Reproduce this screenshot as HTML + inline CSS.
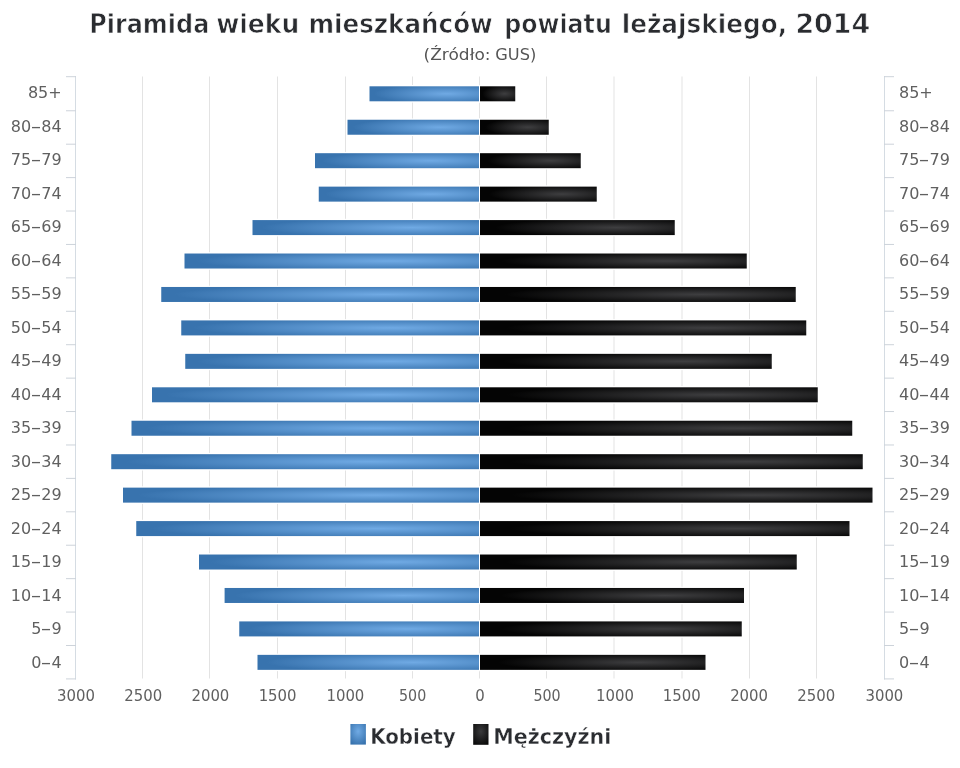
<!DOCTYPE html>
<html lang="pl"><head><meta charset="utf-8"><title>Piramida wieku mieszkańców powiatu leżajskiego, 2014</title>
<style>
html,body{margin:0;padding:0;background:#fff}
#chart{position:relative;width:960px;height:768px;overflow:hidden;background:#fff;font-family:"DejaVu Sans","Liberation Sans",sans-serif}
svg{display:block;position:absolute;left:0;top:0}
svg text{font-family:"DejaVu Sans","Liberation Sans",sans-serif}
.yl{position:absolute;font-size:16px;line-height:20px;height:20px;color:#606060;white-space:nowrap}
.yl.l{right:898.3px;text-align:right}
.yl.r{left:899px;text-align:left}
.yl i{font-style:normal;display:inline-block;width:10.2px;text-align:center;transform:scaleX(1.9)}
</style></head><body>
<div id="chart">
<svg width="960" height="768" viewBox="0 0 960 768">
<defs>
<radialGradient id="gf" cx="0.7" cy="0.5" r="0.66"><stop offset="0" stop-color="#70aae4"/><stop offset="1" stop-color="#3873ae"/></radialGradient>
<radialGradient id="gm" cx="0.7" cy="0.5" r="0.62"><stop offset="0" stop-color="#3e3e40"/><stop offset="1" stop-color="#040404"/></radialGradient>
<radialGradient id="lf" cx="0.5" cy="0.36" r="0.7"><stop offset="0" stop-color="#70aae4"/><stop offset="1" stop-color="#3873ae"/></radialGradient>
<radialGradient id="lm" cx="0.5" cy="0.36" r="0.7"><stop offset="0" stop-color="#3a3a3c"/><stop offset="1" stop-color="#0a0a0a"/></radialGradient>
</defs>
<rect width="960" height="768" fill="#fff"/>
<g stroke="#e3e3e3" stroke-width="1">
<line x1="142.5" y1="76.5" x2="142.5" y2="678.5"/>
<line x1="209.5" y1="76.5" x2="209.5" y2="678.5"/>
<line x1="277.5" y1="76.5" x2="277.5" y2="678.5"/>
<line x1="345.5" y1="76.5" x2="345.5" y2="678.5"/>
<line x1="412.5" y1="76.5" x2="412.5" y2="678.5"/>
<line x1="479.5" y1="76.5" x2="479.5" y2="678.5"/>
<line x1="546.5" y1="76.5" x2="546.5" y2="678.5"/>
<line x1="614" y1="76.5" x2="614" y2="678.5"/>
<line x1="682" y1="76.5" x2="682" y2="678.5"/>
<line x1="749.5" y1="76.5" x2="749.5" y2="678.5"/>
<line x1="816.5" y1="76.5" x2="816.5" y2="678.5"/>
</g>
<g stroke="#d5dce3" stroke-width="1" fill="none">
<line x1="75.5" y1="76" x2="75.5" y2="679.5"/>
<line x1="884.5" y1="76" x2="884.5" y2="679.5"/>
</g><g stroke="#cdd3da" stroke-width="1" fill="none">
<line x1="66" y1="76.70" x2="76" y2="76.70"/>
<line x1="884" y1="76.70" x2="894" y2="76.70"/>
<line x1="66" y1="110.77" x2="76" y2="110.77"/>
<line x1="884" y1="110.77" x2="894" y2="110.77"/>
<line x1="66" y1="144.19" x2="76" y2="144.19"/>
<line x1="884" y1="144.19" x2="894" y2="144.19"/>
<line x1="66" y1="177.61" x2="76" y2="177.61"/>
<line x1="884" y1="177.61" x2="894" y2="177.61"/>
<line x1="66" y1="211.03" x2="76" y2="211.03"/>
<line x1="884" y1="211.03" x2="894" y2="211.03"/>
<line x1="66" y1="244.45" x2="76" y2="244.45"/>
<line x1="884" y1="244.45" x2="894" y2="244.45"/>
<line x1="66" y1="277.87" x2="76" y2="277.87"/>
<line x1="884" y1="277.87" x2="894" y2="277.87"/>
<line x1="66" y1="311.29" x2="76" y2="311.29"/>
<line x1="884" y1="311.29" x2="894" y2="311.29"/>
<line x1="66" y1="344.71" x2="76" y2="344.71"/>
<line x1="884" y1="344.71" x2="894" y2="344.71"/>
<line x1="66" y1="378.13" x2="76" y2="378.13"/>
<line x1="884" y1="378.13" x2="894" y2="378.13"/>
<line x1="66" y1="411.55" x2="76" y2="411.55"/>
<line x1="884" y1="411.55" x2="894" y2="411.55"/>
<line x1="66" y1="444.97" x2="76" y2="444.97"/>
<line x1="884" y1="444.97" x2="894" y2="444.97"/>
<line x1="66" y1="478.39" x2="76" y2="478.39"/>
<line x1="884" y1="478.39" x2="894" y2="478.39"/>
<line x1="66" y1="511.81" x2="76" y2="511.81"/>
<line x1="884" y1="511.81" x2="894" y2="511.81"/>
<line x1="66" y1="545.23" x2="76" y2="545.23"/>
<line x1="884" y1="545.23" x2="894" y2="545.23"/>
<line x1="66" y1="578.65" x2="76" y2="578.65"/>
<line x1="884" y1="578.65" x2="894" y2="578.65"/>
<line x1="66" y1="612.07" x2="76" y2="612.07"/>
<line x1="884" y1="612.07" x2="894" y2="612.07"/>
<line x1="66" y1="645.49" x2="76" y2="645.49"/>
<line x1="884" y1="645.49" x2="894" y2="645.49"/>
<line x1="66" y1="678.91" x2="76" y2="678.91"/>
<line x1="884" y1="678.91" x2="894" y2="678.91"/>
</g>
<g fill="#fff">
<rect x="368.20" y="85.00" width="148.35" height="17.6"/>
<rect x="346.20" y="118.44" width="203.85" height="17.6"/>
<rect x="313.70" y="151.89" width="268.35" height="17.6"/>
<rect x="317.45" y="185.33" width="280.60" height="17.6"/>
<rect x="251.20" y="218.78" width="424.85" height="17.6"/>
<rect x="183.20" y="252.22" width="564.85" height="17.6"/>
<rect x="159.95" y="285.67" width="637.10" height="17.6"/>
<rect x="179.95" y="319.11" width="627.60" height="17.6"/>
<rect x="183.95" y="352.56" width="589.10" height="17.6"/>
<rect x="150.70" y="386.00" width="668.35" height="17.6"/>
<rect x="130.20" y="419.44" width="723.35" height="17.6"/>
<rect x="109.95" y="452.89" width="754.10" height="17.6"/>
<rect x="121.70" y="486.33" width="752.10" height="17.6"/>
<rect x="134.95" y="519.78" width="715.85" height="17.6"/>
<rect x="197.70" y="553.22" width="600.35" height="17.6"/>
<rect x="223.30" y="586.67" width="522.00" height="17.6"/>
<rect x="237.95" y="620.11" width="505.10" height="17.6"/>
<rect x="256.20" y="653.56" width="450.60" height="17.6"/>
</g>
<g>
<rect x="369.50" y="86.30" width="110.00" height="15" fill="url(#gf)"/>
<rect x="479.5" y="86.30" width="35.75" height="15" fill="url(#gm)"/>
<rect x="347.50" y="119.74" width="132.00" height="15" fill="url(#gf)"/>
<rect x="479.5" y="119.74" width="69.25" height="15" fill="url(#gm)"/>
<rect x="315.00" y="153.19" width="164.50" height="15" fill="url(#gf)"/>
<rect x="479.5" y="153.19" width="101.25" height="15" fill="url(#gm)"/>
<rect x="318.75" y="186.63" width="160.75" height="15" fill="url(#gf)"/>
<rect x="479.5" y="186.63" width="117.25" height="15" fill="url(#gm)"/>
<rect x="252.50" y="220.08" width="227.00" height="15" fill="url(#gf)"/>
<rect x="479.5" y="220.08" width="195.25" height="15" fill="url(#gm)"/>
<rect x="184.50" y="253.52" width="295.00" height="15" fill="url(#gf)"/>
<rect x="479.5" y="253.52" width="267.25" height="15" fill="url(#gm)"/>
<rect x="161.25" y="286.97" width="318.25" height="15" fill="url(#gf)"/>
<rect x="479.5" y="286.97" width="316.25" height="15" fill="url(#gm)"/>
<rect x="181.25" y="320.41" width="298.25" height="15" fill="url(#gf)"/>
<rect x="479.5" y="320.41" width="326.75" height="15" fill="url(#gm)"/>
<rect x="185.25" y="353.86" width="294.25" height="15" fill="url(#gf)"/>
<rect x="479.5" y="353.86" width="292.25" height="15" fill="url(#gm)"/>
<rect x="152.00" y="387.30" width="327.50" height="15" fill="url(#gf)"/>
<rect x="479.5" y="387.30" width="338.25" height="15" fill="url(#gm)"/>
<rect x="131.50" y="420.74" width="348.00" height="15" fill="url(#gf)"/>
<rect x="479.5" y="420.74" width="372.75" height="15" fill="url(#gm)"/>
<rect x="111.25" y="454.19" width="368.25" height="15" fill="url(#gf)"/>
<rect x="479.5" y="454.19" width="383.25" height="15" fill="url(#gm)"/>
<rect x="123.00" y="487.63" width="356.50" height="15" fill="url(#gf)"/>
<rect x="479.5" y="487.63" width="393.00" height="15" fill="url(#gm)"/>
<rect x="136.25" y="521.08" width="343.25" height="15" fill="url(#gf)"/>
<rect x="479.5" y="521.08" width="370.00" height="15" fill="url(#gm)"/>
<rect x="199.00" y="554.52" width="280.50" height="15" fill="url(#gf)"/>
<rect x="479.5" y="554.52" width="317.25" height="15" fill="url(#gm)"/>
<rect x="224.60" y="587.97" width="254.90" height="15" fill="url(#gf)"/>
<rect x="479.5" y="587.97" width="264.50" height="15" fill="url(#gm)"/>
<rect x="239.25" y="621.41" width="240.25" height="15" fill="url(#gf)"/>
<rect x="479.5" y="621.41" width="262.25" height="15" fill="url(#gm)"/>
<rect x="257.50" y="654.86" width="222.00" height="15" fill="url(#gf)"/>
<rect x="479.5" y="654.86" width="226.00" height="15" fill="url(#gm)"/>
</g>
<g fill="#fff">
<rect x="479" y="85.00" width="1" height="17.6"/>
<rect x="479" y="118.44" width="1" height="17.6"/>
<rect x="479" y="151.89" width="1" height="17.6"/>
<rect x="479" y="185.33" width="1" height="17.6"/>
<rect x="479" y="218.78" width="1" height="17.6"/>
<rect x="479" y="252.22" width="1" height="17.6"/>
<rect x="479" y="285.67" width="1" height="17.6"/>
<rect x="479" y="319.11" width="1" height="17.6"/>
<rect x="479" y="352.56" width="1" height="17.6"/>
<rect x="479" y="386.00" width="1" height="17.6"/>
<rect x="479" y="419.44" width="1" height="17.6"/>
<rect x="479" y="452.89" width="1" height="17.6"/>
<rect x="479" y="486.33" width="1" height="17.6"/>
<rect x="479" y="519.78" width="1" height="17.6"/>
<rect x="479" y="553.22" width="1" height="17.6"/>
<rect x="479" y="586.67" width="1" height="17.6"/>
<rect x="479" y="620.11" width="1" height="17.6"/>
<rect x="479" y="653.56" width="1" height="17.6"/>
</g>
<g font-size="15.6" fill="#606060" text-anchor="middle">
<text x="76" y="700.6" textLength="37.90" lengthAdjust="spacingAndGlyphs">3000</text>
<text x="143.2" y="700.6" textLength="37.90" lengthAdjust="spacingAndGlyphs">2500</text>
<text x="210.4" y="700.6" textLength="37.90" lengthAdjust="spacingAndGlyphs">2000</text>
<text x="277.6" y="700.6" textLength="37.90" lengthAdjust="spacingAndGlyphs">1500</text>
<text x="345.4" y="700.6" textLength="37.90" lengthAdjust="spacingAndGlyphs">1000</text>
<text x="412.6" y="700.6" textLength="27.20" lengthAdjust="spacingAndGlyphs">500</text>
<text x="480" y="700.6" textLength="9.50" lengthAdjust="spacingAndGlyphs">0</text>
<text x="547" y="700.6" textLength="27.20" lengthAdjust="spacingAndGlyphs">500</text>
<text x="615" y="700.6" textLength="37.90" lengthAdjust="spacingAndGlyphs">1000</text>
<text x="681.7" y="700.6" textLength="37.90" lengthAdjust="spacingAndGlyphs">1500</text>
<text x="749.1" y="700.6" textLength="37.90" lengthAdjust="spacingAndGlyphs">2000</text>
<text x="816.3" y="700.6" textLength="37.90" lengthAdjust="spacingAndGlyphs">2500</text>
<text x="884.4" y="700.6" textLength="37.90" lengthAdjust="spacingAndGlyphs">3000</text>
</g>
<text y="32.8" font-size="26.5" font-weight="bold" fill="#2a2c30" stroke="#fff" stroke-width="0.75"><tspan x="89.15" textLength="120.15" lengthAdjust="spacingAndGlyphs">Piramida</tspan> <tspan x="216.15" textLength="83.15" lengthAdjust="spacingAndGlyphs">wieku</tspan> <tspan x="308.40" textLength="184.40" lengthAdjust="spacingAndGlyphs">mieszkańców</tspan> <tspan x="504.15" textLength="107.65" lengthAdjust="spacingAndGlyphs">powiatu</tspan> <tspan x="621.65" textLength="165.65" lengthAdjust="spacingAndGlyphs">leżajskiego,</tspan> <tspan x="795.40" textLength="74.90" lengthAdjust="spacingAndGlyphs">2014</tspan></text>
<text y="60.2" font-size="15" fill="#555"><tspan x="423.6" textLength="67" lengthAdjust="spacingAndGlyphs">(Źródło:</tspan> <tspan x="495.3" textLength="41" lengthAdjust="spacingAndGlyphs">GUS)</tspan></text>
<rect x="350.4" y="724" width="15.5" height="20.6" fill="url(#lf)"/>
<text x="370.2" y="743.7" font-size="21" font-weight="bold" fill="#2a2c30" stroke="#fff" stroke-width="0.35" textLength="85.6" lengthAdjust="spacingAndGlyphs">Kobiety</text>
<rect x="473.2" y="724" width="15.3" height="20.8" fill="url(#lm)"/>
<text x="493.3" y="743.7" font-size="21" font-weight="bold" fill="#2a2c30" stroke="#fff" stroke-width="0.35" textLength="118" lengthAdjust="spacingAndGlyphs">Mężczyźni</text>
</svg>
<div class="yl l" style="top:83.35px">85+</div><div class="yl r" style="top:83.35px">85+</div>
<div class="yl l" style="top:116.85px">80<i>-</i>84</div><div class="yl r" style="top:116.85px">80<i>-</i>84</div>
<div class="yl l" style="top:150.35px">75<i>-</i>79</div><div class="yl r" style="top:150.35px">75<i>-</i>79</div>
<div class="yl l" style="top:183.85px">70<i>-</i>74</div><div class="yl r" style="top:183.85px">70<i>-</i>74</div>
<div class="yl l" style="top:217.35px">65<i>-</i>69</div><div class="yl r" style="top:217.35px">65<i>-</i>69</div>
<div class="yl l" style="top:250.85px">60<i>-</i>64</div><div class="yl r" style="top:250.85px">60<i>-</i>64</div>
<div class="yl l" style="top:284.35px">55<i>-</i>59</div><div class="yl r" style="top:284.35px">55<i>-</i>59</div>
<div class="yl l" style="top:317.85px">50<i>-</i>54</div><div class="yl r" style="top:317.85px">50<i>-</i>54</div>
<div class="yl l" style="top:351.35px">45<i>-</i>49</div><div class="yl r" style="top:351.35px">45<i>-</i>49</div>
<div class="yl l" style="top:384.85px">40<i>-</i>44</div><div class="yl r" style="top:384.85px">40<i>-</i>44</div>
<div class="yl l" style="top:418.35px">35<i>-</i>39</div><div class="yl r" style="top:418.35px">35<i>-</i>39</div>
<div class="yl l" style="top:451.85px">30<i>-</i>34</div><div class="yl r" style="top:451.85px">30<i>-</i>34</div>
<div class="yl l" style="top:485.35px">25<i>-</i>29</div><div class="yl r" style="top:485.35px">25<i>-</i>29</div>
<div class="yl l" style="top:518.85px">20<i>-</i>24</div><div class="yl r" style="top:518.85px">20<i>-</i>24</div>
<div class="yl l" style="top:552.35px">15<i>-</i>19</div><div class="yl r" style="top:552.35px">15<i>-</i>19</div>
<div class="yl l" style="top:585.85px">10<i>-</i>14</div><div class="yl r" style="top:585.85px">10<i>-</i>14</div>
<div class="yl l" style="top:619.35px">5<i>-</i>9</div><div class="yl r" style="top:619.35px">5<i>-</i>9</div>
<div class="yl l" style="top:652.85px">0<i>-</i>4</div><div class="yl r" style="top:652.85px">0<i>-</i>4</div>
</div></body></html>
